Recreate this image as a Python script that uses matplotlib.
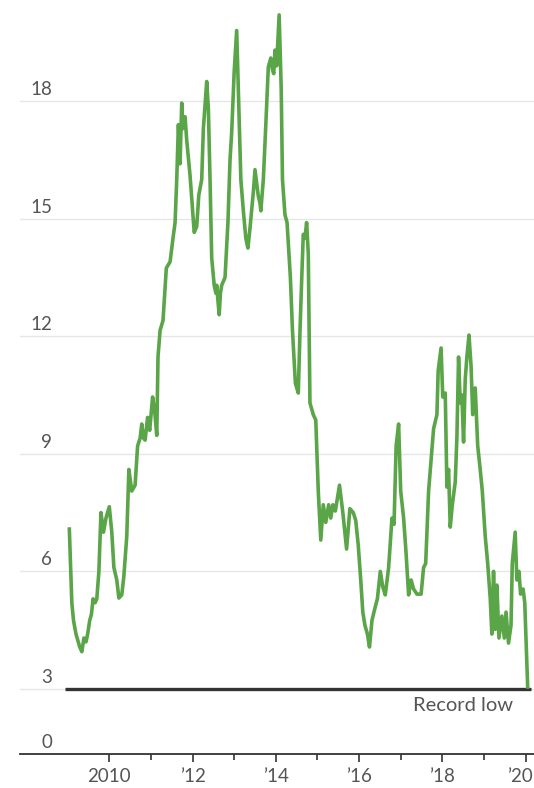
import matplotlib
matplotlib.use('Agg')
import matplotlib.pyplot as plt
import matplotlib.transforms as mtransforms

# weekly-ish readings (decimal year, value)
years = [2009.04, 2009.10, 2009.14, 2009.20, 2009.29, 2009.34, 2009.39, 2009.44, 2009.48, 2009.53,
         2009.57, 2009.61, 2009.66, 2009.70, 2009.75, 2009.80, 2009.86, 2009.92, 2010.00, 2010.06,
         2010.11, 2010.18, 2010.23, 2010.30, 2010.35, 2010.42, 2010.47, 2010.54, 2010.62, 2010.68,
         2010.74, 2010.78, 2010.82, 2010.86, 2010.92, 2010.97, 2011.04, 2011.09, 2011.14, 2011.17,
         2011.22, 2011.29, 2011.37, 2011.46, 2011.53, 2011.58, 2011.62, 2011.66, 2011.70, 2011.74,
         2011.77, 2011.82, 2011.86, 2011.94, 2012.04, 2012.10, 2012.15, 2012.22, 2012.26, 2012.34,
         2012.38, 2012.42, 2012.46, 2012.52, 2012.56, 2012.58, 2012.61, 2012.64, 2012.67, 2012.70,
         2012.78, 2012.85, 2012.90, 2012.94, 2013.00, 2013.06, 2013.10, 2013.16, 2013.22, 2013.28,
         2013.33, 2013.38, 2013.46, 2013.50, 2013.54, 2013.58, 2013.62, 2013.64, 2013.70, 2013.76,
         2013.82, 2013.88, 2013.92, 2013.95, 2013.98, 2014.02, 2014.08, 2014.13, 2014.16, 2014.22,
         2014.27, 2014.35, 2014.40, 2014.47, 2014.54, 2014.58, 2014.62, 2014.66, 2014.70, 2014.74,
         2014.78, 2014.82, 2014.90, 2014.96, 2015.02, 2015.08, 2015.14, 2015.20, 2015.27, 2015.32,
         2015.37, 2015.43, 2015.53, 2015.61, 2015.70, 2015.78, 2015.86, 2015.92, 2015.98, 2016.04,
         2016.09, 2016.14, 2016.20, 2016.25, 2016.31, 2016.39, 2016.44, 2016.51, 2016.57, 2016.63,
         2016.71, 2016.79, 2016.84, 2016.89, 2016.95, 2017.00, 2017.07, 2017.13, 2017.19, 2017.25,
         2017.31, 2017.39, 2017.49, 2017.55, 2017.60, 2017.67, 2017.73, 2017.79, 2017.87, 2017.90,
         2017.97, 2018.01, 2018.07, 2018.11, 2018.15, 2018.19, 2018.24, 2018.31, 2018.35, 2018.39,
         2018.43, 2018.47, 2018.51, 2018.55, 2018.59, 2018.64, 2018.69, 2018.73, 2018.79, 2018.85,
         2018.91, 2018.96, 2019.03, 2019.09, 2019.15, 2019.19, 2019.23, 2019.27, 2019.31, 2019.36,
         2019.43, 2019.49, 2019.53, 2019.59, 2019.65, 2019.68, 2019.75, 2019.79, 2019.84, 2019.88,
         2019.94, 2019.98, 2020.05]
values = [7.08, 5.2, 4.75, 4.4, 4.07, 3.95, 4.3, 4.2, 4.4, 4.75,
          4.9, 5.3, 5.2, 5.3, 6.0, 7.5, 7.0, 7.36, 7.65, 7.0,
          6.1, 5.78, 5.32, 5.4, 5.88, 6.9, 8.6, 8.05, 8.2, 9.2,
          9.4, 9.76, 9.4, 9.35, 9.93, 9.6, 10.45, 10.1, 9.47, 11.47,
          12.15, 12.4, 13.74, 13.9, 14.5, 14.9, 16.0, 17.4, 16.4, 17.95,
          17.3, 17.6, 17.0, 16.1, 14.65, 14.8, 15.6, 16.0, 17.3, 18.5,
          17.8, 16.0, 14.0, 13.3, 13.1, 13.3, 12.9, 12.55, 13.1, 13.3,
          13.5, 14.9, 16.5, 17.2, 18.75, 19.8, 18.3, 16.0, 15.2, 14.5,
          14.25, 14.76, 15.68, 16.25, 15.9, 15.57, 15.4, 15.2, 16.0, 17.4,
          18.87, 19.1, 18.8, 18.7, 19.3, 18.9, 20.2, 18.3, 16.0, 15.1,
          14.9, 13.5, 12.15, 10.8, 10.55, 12.1, 13.4, 14.6, 14.5, 14.9,
          14.1, 10.3, 10.0, 9.86, 8.05, 6.8, 7.7, 7.25, 7.7, 7.36,
          7.7, 7.54, 8.2, 7.5, 6.57, 7.6, 7.5, 7.3, 6.67, 5.78,
          4.96, 4.63, 4.4, 4.07, 4.75, 5.1, 5.3, 6.0, 5.6, 5.4,
          6.1, 7.36, 7.2, 9.2, 9.76, 8.05, 7.36, 6.45, 5.4, 5.78,
          5.55, 5.42, 5.42, 6.1, 6.2, 8.05, 8.85, 9.64, 10.0, 11.12,
          11.7, 10.45, 10.55, 8.15, 8.6, 7.13, 7.7, 8.28, 9.42, 11.47,
          10.3, 10.5, 9.3, 10.9, 11.47, 12.03, 11.24, 10.0, 10.68, 9.2,
          8.6, 8.05, 6.9, 6.2, 5.32, 4.4, 6.0, 4.52, 5.65, 4.3,
          4.86, 4.3, 4.96, 4.17, 4.63, 6.2, 7.0, 5.78, 6.0, 5.42,
          5.55, 5.2, 3.05]

record_low = 3.0
record_span = [2008.94, 2020.13]

ytick_vals = [3, 6, 9, 12, 15, 18]
ytick_labels = ['3', '6', '9', '12', '15', '18']
major_years = [2010, 2012, 2014, 2016, 2018, 2020]
major_labels = ['2010', '\u201912', '\u201914', '\u201916', '\u201918', '\u201920']
minor_years = [2011, 2013, 2015, 2017, 2019]

plt.rcParams['font.family'] = ['Lato', 'DejaVu Sans']
txt_color = '#555555'
green = '#5aa548'
dark = '#333333'

fig = plt.figure(figsize=(5.34, 7.88), dpi=100)
ax = fig.add_axes([20 / 534, 34 / 788, 514 / 534, 754 / 788])

ymin, ymax = 1.34, 20.58
ax.set_xlim(2007.855, 2020.202)
ax.set_ylim(ymin, ymax)

# gridlines
ax.set_yticks(ytick_vals)
ax.yaxis.grid(True, color='#e6e6e6', linewidth=1.0)
ax.tick_params(axis='y', left=False, labelleft=False)
ax.set_axisbelow(True)

# y labels sit above the gridlines, inside the plot
trans = mtransforms.blended_transform_factory(ax.transAxes, ax.transData)
off = mtransforms.offset_copy(trans, fig=fig, x=0, y=3, units='dots')
for v, lab in zip(ytick_vals, ytick_labels):
    ax.text(32 / 514, v, lab, transform=off, ha='right', va='bottom',
            fontsize=13.5, color=txt_color)
ax.text(32 / 514, ymin, '0', transform=off, ha='right', va='bottom',
        fontsize=13.5, color=txt_color)

# record low line
ax.hlines(record_low, record_span[0], record_span[1], color=dark, linewidth=2.4, zorder=3)
ax.text(2019.70, record_low, 'Record low', ha='right', va='top', fontsize=14.5,
        color=txt_color, transform=mtransforms.offset_copy(ax.transData, fig=fig, x=0, y=-8, units='dots'))

ax.plot(years, values, color=green, linewidth=2.6, zorder=4, solid_joinstyle='round')

# x axis
for s in ['top', 'right', 'left']:
    ax.spines[s].set_visible(False)
ax.spines['bottom'].set_color(dark)
ax.spines['bottom'].set_linewidth(1.3)
ax.set_xticks(major_years)
ax.set_xticklabels(major_labels)
ax.set_xticks(minor_years, minor=True)
ax.tick_params(axis='x', which='major', length=6, width=1.2, color=dark, pad=4,
               labelsize=13.5, labelcolor=txt_color)
ax.tick_params(axis='x', which='minor', length=4, width=1.2, color=dark)

# keep the last year label inside the picture
last = ax.get_xticklabels()[-1]
last.set_transform(last.get_transform() + mtransforms.ScaledTranslation(-6 / 100, 0, fig.dpi_scale_trans))

plt.savefig('out.png', dpi=100)
